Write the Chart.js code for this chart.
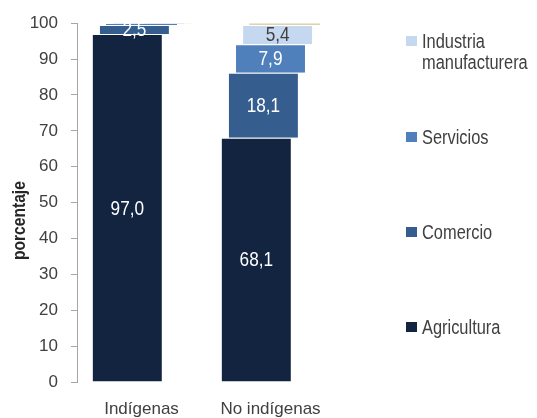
<!DOCTYPE html>
<html lang="es">
<head>
<meta charset="utf-8">
<title>Población ocupada por sector</title>
<script src="https://cdn.jsdelivr.net/npm/chart.js@4/dist/chart.umd.min.js"></script>
<style>
    html, body { margin: 0; padding: 0; background: #fff; }
    #contenedor { position: relative; width: 537px; height: 418px; }
    #leyenda {
        position: absolute; left: 406px; top: 0;
        font-family: 'Liberation Sans', Arial, sans-serif;
        font-size: 20px; color: #404040;
    }
    .ley-item { position: absolute; left: 0; width: 131px; line-height: 21px; }
    .ley-caja { position: absolute; left: 0; width: 11px; height: 10px; }
    .ley-texto {
        position: absolute; left: 16px; white-space: nowrap;
        transform: scaleX(0.82); transform-origin: left top;
    }
</style>
</head>
<body>
<div id="contenedor">
    <canvas id="grafico-sectores"></canvas>
    <div id="leyenda"></div>
</div>
<script>
// Grupos y participación (%) por sector
const grupos      = ['Indígenas', 'No indígenas'];
const agricultura = [97.0, 68.1];
const comercio    = [2.5, 18.1];
const servicios   = [0.3, 7.9];
const industria   = [0.1, 5.4];
const otros       = [0.1, 0.5];

const ticksY = [0, 10, 20, 30, 40, 50, 60, 70, 80, 90, 100];

const FUENTE = "'Liberation Sans', Arial, sans-serif";
const GRIS   = '#404040';
const ANGOSTO = 0.82;   // compresión horizontal del texto dibujado a mano

// Series apiladas (de abajo hacia arriba)
const series = [
    { label: 'Agricultura',             data: agricultura, color: '#12243f', texto: '#ffffff', leyenda: true },
    { label: 'Comercio',                data: comercio,    color: '#355e8f', texto: '#ffffff', leyenda: true },
    { label: 'Servicios',               data: servicios,   color: '#4f80bc', texto: '#ffffff', leyenda: true },
    { label: 'Industria manufacturera', data: industria,   color: '#c6d8f0', texto: GRIS,      leyenda: true },
    { label: 'Otros',                   data: otros,       color: '#dcd4b0', texto: GRIS,      leyenda: false }
];

// Desplaza cada serie un poco a la derecha (efecto escalonado)
const escalonado = {
    id: 'escalonado',
    afterDatasetsUpdate(chart) {
        const centro = (chart.data.datasets.length - 1) / 2;
        chart.data.datasets.forEach((ds, i) => {
            chart.getDatasetMeta(i).data.forEach(barra => {
                barra.x += (i - centro) * barra.width / 10;
            });
        });
    }
};

// Etiquetas de valor dentro de cada segmento
const etiquetas = {
    id: 'etiquetas',
    afterDatasetsDraw(chart) {
        const ctx = chart.ctx;
        chart.data.datasets.forEach((ds, i) => {
            chart.getDatasetMeta(i).data.forEach((barra, j) => {
                const valor = ds.data[j];
                if (valor < 1) return;
                ctx.save();
                ctx.translate(barra.x, (barra.y + barra.base) / 2 + 1);
                ctx.scale(ANGOSTO, 1);
                ctx.font = `21px ${FUENTE}`;
                ctx.textAlign = 'center';
                ctx.textBaseline = 'middle';
                ctx.fillStyle = series[i].texto;
                ctx.fillText(valor.toFixed(1).replace('.', ','), 0, 0);
                ctx.restore();
            });
        });
    }
};

// Título del eje Y
const tituloEje = {
    id: 'tituloEje',
    afterDraw(chart) {
        const ctx  = chart.ctx;
        const area = chart.chartArea;
        ctx.save();
        ctx.translate(20, (area.top + area.bottom) / 2 + 18);
        ctx.rotate(-Math.PI / 2);
        ctx.scale(ANGOSTO, 1);
        ctx.font = `bold 19px ${FUENTE}`;
        ctx.fillStyle = '#262626';
        ctx.textAlign = 'center';
        ctx.textBaseline = 'middle';
        ctx.fillText('porcentaje', 0, 0);
        ctx.restore();
    }
};

new Chart(document.getElementById('grafico-sectores'), {
    type: 'bar',
    data: {
        labels: grupos,
        datasets: series.map(s => ({
            label: s.label,
            data: s.data,
            backgroundColor: s.color,
            borderColor: 'rgba(255,255,255,0.45)',
            borderWidth: (c) => (c.raw < 1 ? 0 : 1),
            barPercentage: 0.55,
            categoryPercentage: 1
        }))
    },
    options: {
        responsive: true,
        maintainAspectRatio: false,
        animation: false,
        layout: { padding: { top: 22, right: 202, left: 0, bottom: 0 } },
        plugins: {
            legend: { display: false },
            tooltip: { enabled: false }
        },
        scales: {
            x: {
                stacked: true,
                grid: { display: false, drawTicks: false },
                border: { display: false },
                ticks: { color: GRIS, font: { family: FUENTE, size: 17 }, padding: 17 },
                afterFit: (escala) => { escala.height = 36; }
            },
            y: {
                stacked: true,
                min: 0,
                max: 100,
                afterBuildTicks: (escala) => { escala.ticks = ticksY.map(v => ({ value: v })); },
                grid: { drawOnChartArea: false, tickLength: 6, color: '#a6a6a6' },
                border: { color: '#a6a6a6' },
                ticks: { color: GRIS, font: { family: FUENTE, size: 17 }, padding: 13 },
                afterFit: (escala) => { escala.width = 77; }
            }
        }
    },
    plugins: [escalonado, etiquetas, tituloEje]
});

// Leyenda a la derecha, en orden inverso al apilado
const leyenda    = document.getElementById('leyenda');
const posLeyenda = [41, 137, 232, 327];
series.filter(s => s.leyenda).reverse().forEach((s, k) => {
    const item = document.createElement('div');
    item.className = 'ley-item';
    item.style.top = (posLeyenda[k] - 10) + 'px';
    item.innerHTML = `
        <span class="ley-caja" style="top:5px;background:${s.color}"></span>
        <span class="ley-texto">${s.label.split(' ').join('<br>')}</span>`;
    leyenda.appendChild(item);
});
</script>
</body>
</html>
